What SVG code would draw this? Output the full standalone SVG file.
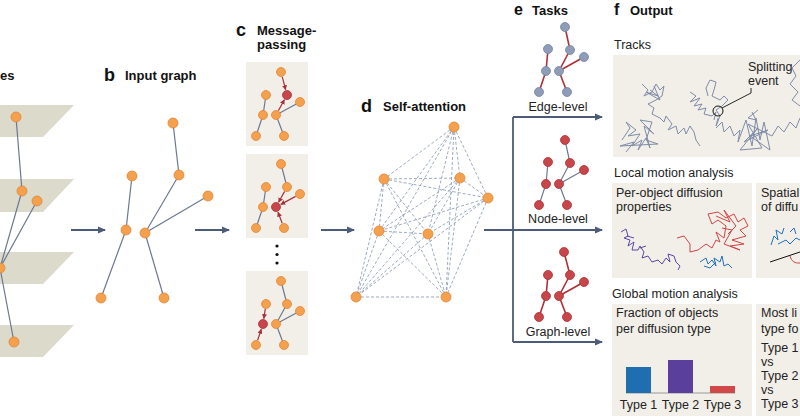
<svg xmlns="http://www.w3.org/2000/svg" width="800" height="419" viewBox="0 0 800 419">
<defs>
<style>
.title{font-family:"Liberation Sans",Arial,sans-serif;font-weight:bold;font-size:13px;fill:#111}
.letter{font-family:"Liberation Sans",Arial,sans-serif;font-weight:bold;font-size:18px;fill:#111}
.lettertop{font-family:"Liberation Sans",Arial,sans-serif;font-weight:bold;font-size:16px;fill:#111}
.lbl{font-family:"Liberation Sans",Arial,sans-serif;font-size:12.5px;fill:#222}
.plane{fill:#dcdacb}
.panel{fill:#f2efe9}
.on{fill:#f5a04c;stroke:#e0853a;stroke-width:0.8}
.rn{fill:#c8464a;stroke:#a83438;stroke-width:0.8}
.gn{fill:#8f9cb8;stroke:#75839f;stroke-width:0.8}
.e{stroke:#6c7891;stroke-width:1.2;fill:none}
.re{stroke:#b03038;stroke-width:1.6;fill:none}
.ra{stroke:#a8323a;stroke-width:1.2;fill:none}
.da{stroke:#8494b0;stroke-width:0.8;stroke-dasharray:3 2;fill:none}
.flow{stroke:#4b5b78;stroke-width:1.8;fill:none}
.trk{stroke:#7f8ba8;stroke-width:1;fill:none;stroke-linejoin:round}
</style>
<marker id="ah" markerWidth="8" markerHeight="8" refX="7" refY="4" orient="auto" markerUnits="userSpaceOnUse"><path d="M0,0.5 L8,4 L0,7.5 Z" fill="#4b5b78"/></marker>
<marker id="rah" markerWidth="5" markerHeight="5" refX="4.5" refY="2.5" orient="auto" markerUnits="userSpaceOnUse"><path d="M0,0 L5,2.5 L0,5 Z" fill="#a8323a"/></marker>
</defs>
<rect width="800" height="419" fill="#fff"/>

<!-- panel a -->
<g id="panel-a">
<text class="title" x="0" y="80">es</text>
<path class="plane" d="M-5,105 L74,105 L43,137 L-5,137 Z"/>
<path class="plane" d="M-5,179 L74,179 L43,212 L-5,212 Z"/>
<path class="plane" d="M-5,252 L74,252 L43,284 L-5,284 Z"/>
<path class="plane" d="M-5,325 L74,325 L43,357 L-5,357 Z"/>
<path class="e" d="M16,117 L22,191 M22,191 L0,268 M37,201 L0,268 M0,268 L14,342"/>
<circle class="on" cx="16" cy="117" r="5"/>
<circle class="on" cx="22" cy="191" r="5"/>
<circle class="on" cx="37" cy="201" r="5"/>
<circle class="on" cx="0" cy="268" r="5"/>
<circle class="on" cx="14" cy="342" r="5"/>
</g>

<!-- panel b -->
<g id="panel-b">
<text class="letter" x="104" y="81">b</text>
<text class="title" x="125" y="80">Input graph</text>
<path class="e" d="M173,123 L179,175 M132,176 L126,230 M179,175 L145,233 M208,196 L145,233 M126,230 L101,298 M145,233 L164,298"/>
<circle class="on" cx="173" cy="123" r="5"/>
<circle class="on" cx="132" cy="176" r="5"/>
<circle class="on" cx="179" cy="175" r="5"/>
<circle class="on" cx="208" cy="196" r="5"/>
<circle class="on" cx="126" cy="230" r="5"/>
<circle class="on" cx="145" cy="233" r="5"/>
<circle class="on" cx="101" cy="298" r="5"/>
<circle class="on" cx="164" cy="298" r="5"/>
</g>

<!-- panel c -->
<g id="panel-c">
<text class="letter" x="236" y="36">c</text>
<text class="title" x="257" y="35">Message-<tspan x="257" dy="14">passing</tspan></text>
<rect class="panel" x="246" y="62" width="62" height="84"/>
<rect class="panel" x="246" y="154" width="62" height="84"/>
<rect class="panel" x="246" y="271" width="62" height="84"/>
<circle cx="277" cy="246" r="1.6" fill="#111"/>
<circle cx="277" cy="254.5" r="1.6" fill="#111"/>
<circle cx="277" cy="263" r="1.6" fill="#111"/>
<!-- box 1 -->
<path class="e" d="M266,95 L263,115 L256,136 M276,115 L300,102 M276,115 L284,136"/>
<path class="ra" marker-end="url(#rah)" d="M282.3,76.8 L285.6,89.7"/>
<path class="ra" marker-end="url(#rah)" d="M278.4,110.6 L284.4,99.8"/>
<circle class="on" cx="281" cy="72" r="4.5"/>
<circle class="on" cx="266" cy="95" r="4.5"/>
<circle class="rn" cx="287" cy="95" r="4.5"/>
<circle class="on" cx="300" cy="102" r="4.5"/>
<circle class="on" cx="263" cy="115" r="4.5"/>
<circle class="on" cx="276" cy="115" r="4.5"/>
<circle class="on" cx="256" cy="136" r="4.5"/>
<circle class="on" cx="284" cy="136" r="4.5"/>
<!-- box 2 -->
<path class="e" d="M281,164 L287,187 M266,187 L263,207 L256,228"/>
<path class="ra" marker-end="url(#rah)" d="M284.6,191.4 L278.6,202.2"/>
<path class="ra" marker-end="url(#rah)" d="M295.6,196.4 L280.8,204.4"/>
<path class="ra" marker-end="url(#rah)" d="M282.2,223.3 L278,212.1"/>
<circle class="on" cx="281" cy="164" r="4.5"/>
<circle class="on" cx="266" cy="187" r="4.5"/>
<circle class="on" cx="287" cy="187" r="4.5"/>
<circle class="on" cx="300" cy="194" r="4.5"/>
<circle class="on" cx="263" cy="207" r="4.5"/>
<circle class="rn" cx="276" cy="207" r="4.5"/>
<circle class="on" cx="256" cy="228" r="4.5"/>
<circle class="on" cx="284" cy="228" r="4.5"/>
<!-- box 3 -->
<path class="e" d="M281,281 L287,304 L276,324 M300,311 L276,324 L284,345"/>
<path class="ra" marker-end="url(#rah)" d="M265.3,308.9 L263.8,318.6"/>
<path class="ra" marker-end="url(#rah)" d="M257.6,340.3 L261.3,329.2"/>
<circle class="on" cx="281" cy="281" r="4.5"/>
<circle class="on" cx="266" cy="304" r="4.5"/>
<circle class="on" cx="287" cy="304" r="4.5"/>
<circle class="on" cx="300" cy="311" r="4.5"/>
<circle class="rn" cx="263" cy="324" r="4.5"/>
<circle class="on" cx="276" cy="324" r="4.5"/>
<circle class="on" cx="256" cy="345" r="4.5"/>
<circle class="on" cx="284" cy="345" r="4.5"/>
</g>

<!-- panel d -->
<g id="panel-d">
<text class="letter" x="361" y="112">d</text>
<text class="title" x="383" y="111">Self-attention</text>
<path class="da" d="M454,127 L384,179 M454,127 L460,178 M454,127 L488,198 M454,127 L379,231 M454,127 L428,234 M454,127 L356,297 M454,127 L446,297
M384,179 L460,178 M384,179 L488,198 M384,179 L379,231 M384,179 L428,234 M384,179 L356,297 M384,179 L446,297
M460,178 L488,198 M460,178 L379,231 M460,178 L428,234 M460,178 L356,297 M460,178 L446,297
M488,198 L379,231 M488,198 L428,234 M488,198 L356,297 M488,198 L446,297
M379,231 L428,234 M379,231 L356,297 M379,231 L446,297
M428,234 L356,297 M428,234 L446,297
M356,297 L446,297"/>
<circle class="on" cx="454" cy="127" r="5"/>
<circle class="on" cx="384" cy="179" r="5"/>
<circle class="on" cx="460" cy="178" r="5"/>
<circle class="on" cx="488" cy="198" r="5"/>
<circle class="on" cx="379" cy="231" r="5"/>
<circle class="on" cx="428" cy="234" r="5"/>
<circle class="on" cx="356" cy="297" r="5"/>
<circle class="on" cx="446" cy="297" r="5"/>
</g>

<!-- connectors -->
<g id="connectors">
<path class="flow" marker-end="url(#ah)" d="M71,230 L105,230"/>
<path class="flow" marker-end="url(#ah)" d="M195,230 L229,230"/>
<path class="flow" marker-end="url(#ah)" d="M321,230 L354,230"/>
<path class="flow" d="M513,117 L513,342"/>
<path class="flow" marker-end="url(#ah)" d="M513,117 L602,117"/>
<path class="flow" marker-end="url(#ah)" d="M484,230 L602,230"/>
<path class="flow" marker-end="url(#ah)" d="M513,342 L602,342"/>
</g>

<!-- panel e -->
<g id="panel-e">
<text class="lettertop" x="514" y="15">e</text>
<text class="title" x="532" y="15">Tasks</text>
</g>
<g id="task-edge">
<path class="re" d="M565,27 L570,50 L559,71 L567,92 M548,49 L546,71 L539,92 M584,57 L559,71"/>
<circle class="gn" cx="565" cy="27" r="4.5"/>
<circle class="gn" cx="548" cy="49" r="4.5"/>
<circle class="gn" cx="570" cy="50" r="4.5"/>
<circle class="gn" cx="584" cy="57" r="4.5"/>
<circle class="gn" cx="546" cy="71" r="4.5"/>
<circle class="gn" cx="559" cy="71" r="4.5"/>
<circle class="gn" cx="539" cy="92" r="4.5"/>
<circle class="gn" cx="567" cy="92" r="4.5"/>
<text class="lbl" x="558" y="111" text-anchor="middle">Edge-level</text>
</g>
<g id="task-node">
<path class="e" d="M565,140 L570,163 L559,184 L567,205 M548,162 L546,184 L539,205 M584,170 L559,184"/>
<circle class="rn" cx="565" cy="140" r="4.5"/>
<circle class="rn" cx="548" cy="162" r="4.5"/>
<circle class="rn" cx="570" cy="163" r="4.5"/>
<circle class="rn" cx="584" cy="170" r="4.5"/>
<circle class="rn" cx="546" cy="184" r="4.5"/>
<circle class="rn" cx="559" cy="184" r="4.5"/>
<circle class="rn" cx="539" cy="205" r="4.5"/>
<circle class="rn" cx="567" cy="205" r="4.5"/>
<text class="lbl" x="558" y="223" text-anchor="middle">Node-level</text>
</g>
<g id="task-graph">
<path class="re" d="M564,252 L570,275 L559,296 L567,317 M548,275 L546,296 L539,317 M584,282 L559,296"/>
<circle class="rn" cx="564" cy="252" r="4.5"/>
<circle class="rn" cx="548" cy="275" r="4.5"/>
<circle class="rn" cx="570" cy="275" r="4.5"/>
<circle class="rn" cx="584" cy="282" r="4.5"/>
<circle class="rn" cx="546" cy="296" r="4.5"/>
<circle class="rn" cx="559" cy="296" r="4.5"/>
<circle class="rn" cx="539" cy="317" r="4.5"/>
<circle class="rn" cx="567" cy="317" r="4.5"/>
<text class="lbl" x="558" y="336" text-anchor="middle">Graph-level</text>
</g>

<!-- panel f -->
<g id="panel-f">
<text class="lettertop" x="614" y="15">f</text>
<text class="title" x="630" y="15">Output</text>
</g>
<g id="tracks">
<text class="lbl" x="614" y="49">Tracks</text>
<rect class="panel" x="613" y="55" width="190" height="102"/>
<path class="trk" d="M622,140 L630,128 L626,122 L636,130 L628,136 L640,134 L632,146 L642,140 L638,150 L646,138 L650,148 L644,126 L654,134 L640,120 L652,122 L646,140 L658,144 L620,146 L634,142 L626,152"/>
<path class="trk" d="M642,84 L648,90 L644,96 L652,92 L656,84 L660,90 L664,86 L662,96 L656,100 L648,104 L654,108 L652,114 L660,118 L664,122 L666,116 L672,124 L668,130 L676,126 L678,134 L684,128 L686,134 L690,126 L694,132 L696,140 L700,146 M650,90 L658,96 L646,92 L660,100 L654,86"/>
<path class="trk" d="M690,92 L696,96 L690,102 L700,98 L694,106 L702,104 L698,110 L706,108 L704,114 L712,116 L716,112 L714,120 M708,96 L706,88 L710,80 L716,82 L714,90 L712,96 L720,100 L724,96 L728,100 L722,106 L716,110 L720,116 L716,126 L718,118"/>
<path class="trk" d="M716,128 L722,122 L724,132 L730,126 L734,136 L740,130 L738,142 L746,120 L752,146 L756,118 L760,140 L764,122 L770,150 L750,136 L768,130 L744,142 L758,128 L740,150 L762,148 L748,124 L772,136 L778,126 L784,132 L790,122 L796,128 L800,118 M752,112 L756,120 L748,118 L758,110"/>
<path class="trk" d="M800,60 L792,68 L796,76 L790,84 L798,92 L792,100 L800,106"/>
<circle cx="718" cy="111" r="5" fill="none" stroke="#111" stroke-width="1"/>
<path d="M722,108 L751,93 L751,88" fill="none" stroke="#111" stroke-width="0.9"/>
<text class="lbl" x="748" y="71">Splitting<tspan x="748" dy="14">event</tspan></text>
</g>
<g id="local-motion">
<text class="lbl" x="614" y="177">Local motion analysis</text>
<rect class="panel" x="612" y="183" width="140" height="95"/>
<text class="lbl" x="616" y="197">Per-object diffusion<tspan x="616" dy="14">properties</tspan></text>
<path d="M621,232 L626,229 L628,236 L624,238 L630,240 L628,246 L634,242 L632,250 L638,250 L640,246 L644,252 L642,258 L648,256 L652,262 L658,260 L662,264 L666,258 L670,262 L668,254 L674,256 L676,262 L680,266 L678,270 M627,236 L634,238 M640,248 L646,246" fill="none" stroke="#5848a8" stroke-width="1"/>
<path d="M677,238 L684,236 L690,244 L690,252 L698,250 L706,244 L712,248 L716,240 L720,242 L716,232 L724,238 L726,226 L718,220 L712,224 L708,214 L718,212 L726,218 L734,214 L738,222 L744,218 L748,226 L740,230 L746,236 L732,240 L744,244 L730,246 L740,250 L724,244 L732,230 L722,228 M716,216 L730,222 L724,210 L736,226 L728,234" fill="none" stroke="#d04545" stroke-width="1"/>
<path d="M700,262 L706,258 L708,264 L712,260 L716,266 L714,258 L720,262 L722,256 L724,266 L728,264 L732,268 M704,266 L710,268 L716,262" fill="none" stroke="#1f6fc0" stroke-width="1"/>
<rect class="panel" x="756" y="183" width="50" height="95"/>
<text class="lbl" x="761" y="197">Spatial<tspan x="761" dy="14">of diffu</tspan></text>
<path d="M771,245 L774,236 L778,240 L776,230 L782,234 L784,228 M778,244 L786,240 L790,244 L796,238 L800,240 M790,232 L794,228 L796,234" fill="none" stroke="#1f6fc0" stroke-width="1"/>
<path d="M770,262 L800,252" fill="none" stroke="#111" stroke-width="1"/>
<path d="M790,256 Q792,264 800,263" fill="none" stroke="#d04545" stroke-width="1"/>
</g>
<g id="global-motion">
<text class="lbl" x="612" y="298">Global motion analysis</text>
<rect class="panel" x="612" y="304" width="140" height="112"/>
<text class="lbl" x="616" y="317">Fraction of objects<tspan x="616" dy="16">per diffusion type</tspan></text>
<path d="M626,393 L735,393" stroke="#9a9a9a" stroke-width="1"/>
<rect x="626" y="367" width="25" height="26" fill="#1f6fb0"/>
<rect x="668" y="360" width="25" height="33" fill="#5b3f9c"/>
<rect x="710" y="386" width="25" height="7" fill="#d04848"/>
<text class="lbl" x="638.5" y="409" text-anchor="middle">Type 1</text>
<text class="lbl" x="680.5" y="409" text-anchor="middle">Type 2</text>
<text class="lbl" x="722.5" y="409" text-anchor="middle">Type 3</text>
<rect class="panel" x="756" y="304" width="50" height="112"/>
<text class="lbl" x="761" y="317">Most li<tspan x="761" dy="16">type fo</tspan><tspan x="761" dy="19">Type 1</tspan><tspan x="761" dy="14">vs</tspan><tspan x="761" dy="14">Type 2</tspan><tspan x="761" dy="14">vs</tspan><tspan x="761" dy="14">Type 3</tspan></text>
</g>
</svg>
